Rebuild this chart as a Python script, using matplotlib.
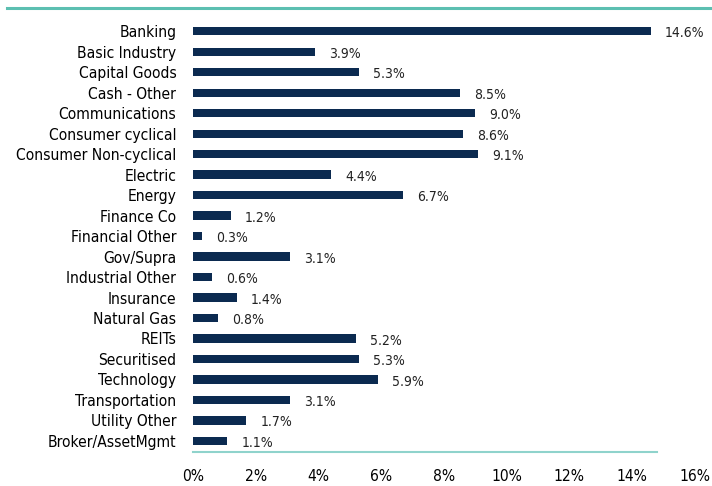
import matplotlib
matplotlib.use("Agg")
import matplotlib.pyplot as plt
from matplotlib.lines import Line2D

categories = ["Banking", "Basic Industry", "Capital Goods", "Cash - Other", "Communications",
              "Consumer cyclical", "Consumer Non-cyclical", "Electric", "Energy", "Finance Co",
              "Financial Other", "Gov/Supra", "Industrial Other", "Insurance", "Natural Gas",
              "REITs", "Securitised", "Technology", "Transportation", "Utility Other",
              "Broker/AssetMgmt"]
values = [14.6, 3.9, 5.3, 8.5, 9.0, 8.6, 9.1, 4.4, 6.7, 1.2, 0.3, 3.1, 0.6, 1.4, 0.8,
          5.2, 5.3, 5.9, 3.1, 1.7, 1.1]
xticks = [0, 2, 4, 6, 8, 10, 12, 14, 16]

plt.rcParams['font.family'] = ['DejaVu Sans']
plt.rcParams['font.stretch'] = 'condensed'

navy = "#0b2a50"
fig = plt.figure(figsize=(7.12, 4.86), dpi=100)
ax = fig.add_axes([0.271, 0.07, 0.705, 0.889])

ypos = list(range(len(categories)))
ax.barh(ypos, values, height=0.4, color=navy)
for y, v in zip(ypos, values):
    ax.text(v + 0.45, y + 0.1, f"{v:.1f}%", va="center", ha="left", fontsize=10,
            color="#222222", fontstretch="condensed")

ax.set_ylim(len(categories) - 0.46, -0.55)
ax.set_xlim(0, 16)
ax.set_yticks(ypos)
ax.set_yticklabels(categories, fontsize=11.2, fontstretch="condensed")
ax.set_xticks(xticks)
ax.set_xticklabels([f"{t}%" for t in xticks], fontsize=11.2, fontstretch="condensed")
ax.tick_params(axis="both", length=0, colors="black")
ax.tick_params(axis="x", pad=12)
ax.tick_params(axis="y", pad=12)

for s in ["top", "right", "left"]:
    ax.spines[s].set_visible(False)
ax.spines["bottom"].set_color("#8fd3cc")
ax.spines["bottom"].set_linewidth(1.5)
ax.spines["bottom"].set_bounds(0, 14.8)

fig.add_artist(Line2D([0.01, 1.0], [0.983, 0.983], color="#5cbfb1", lw=2.2))

fig.savefig("out.png", dpi=100)
